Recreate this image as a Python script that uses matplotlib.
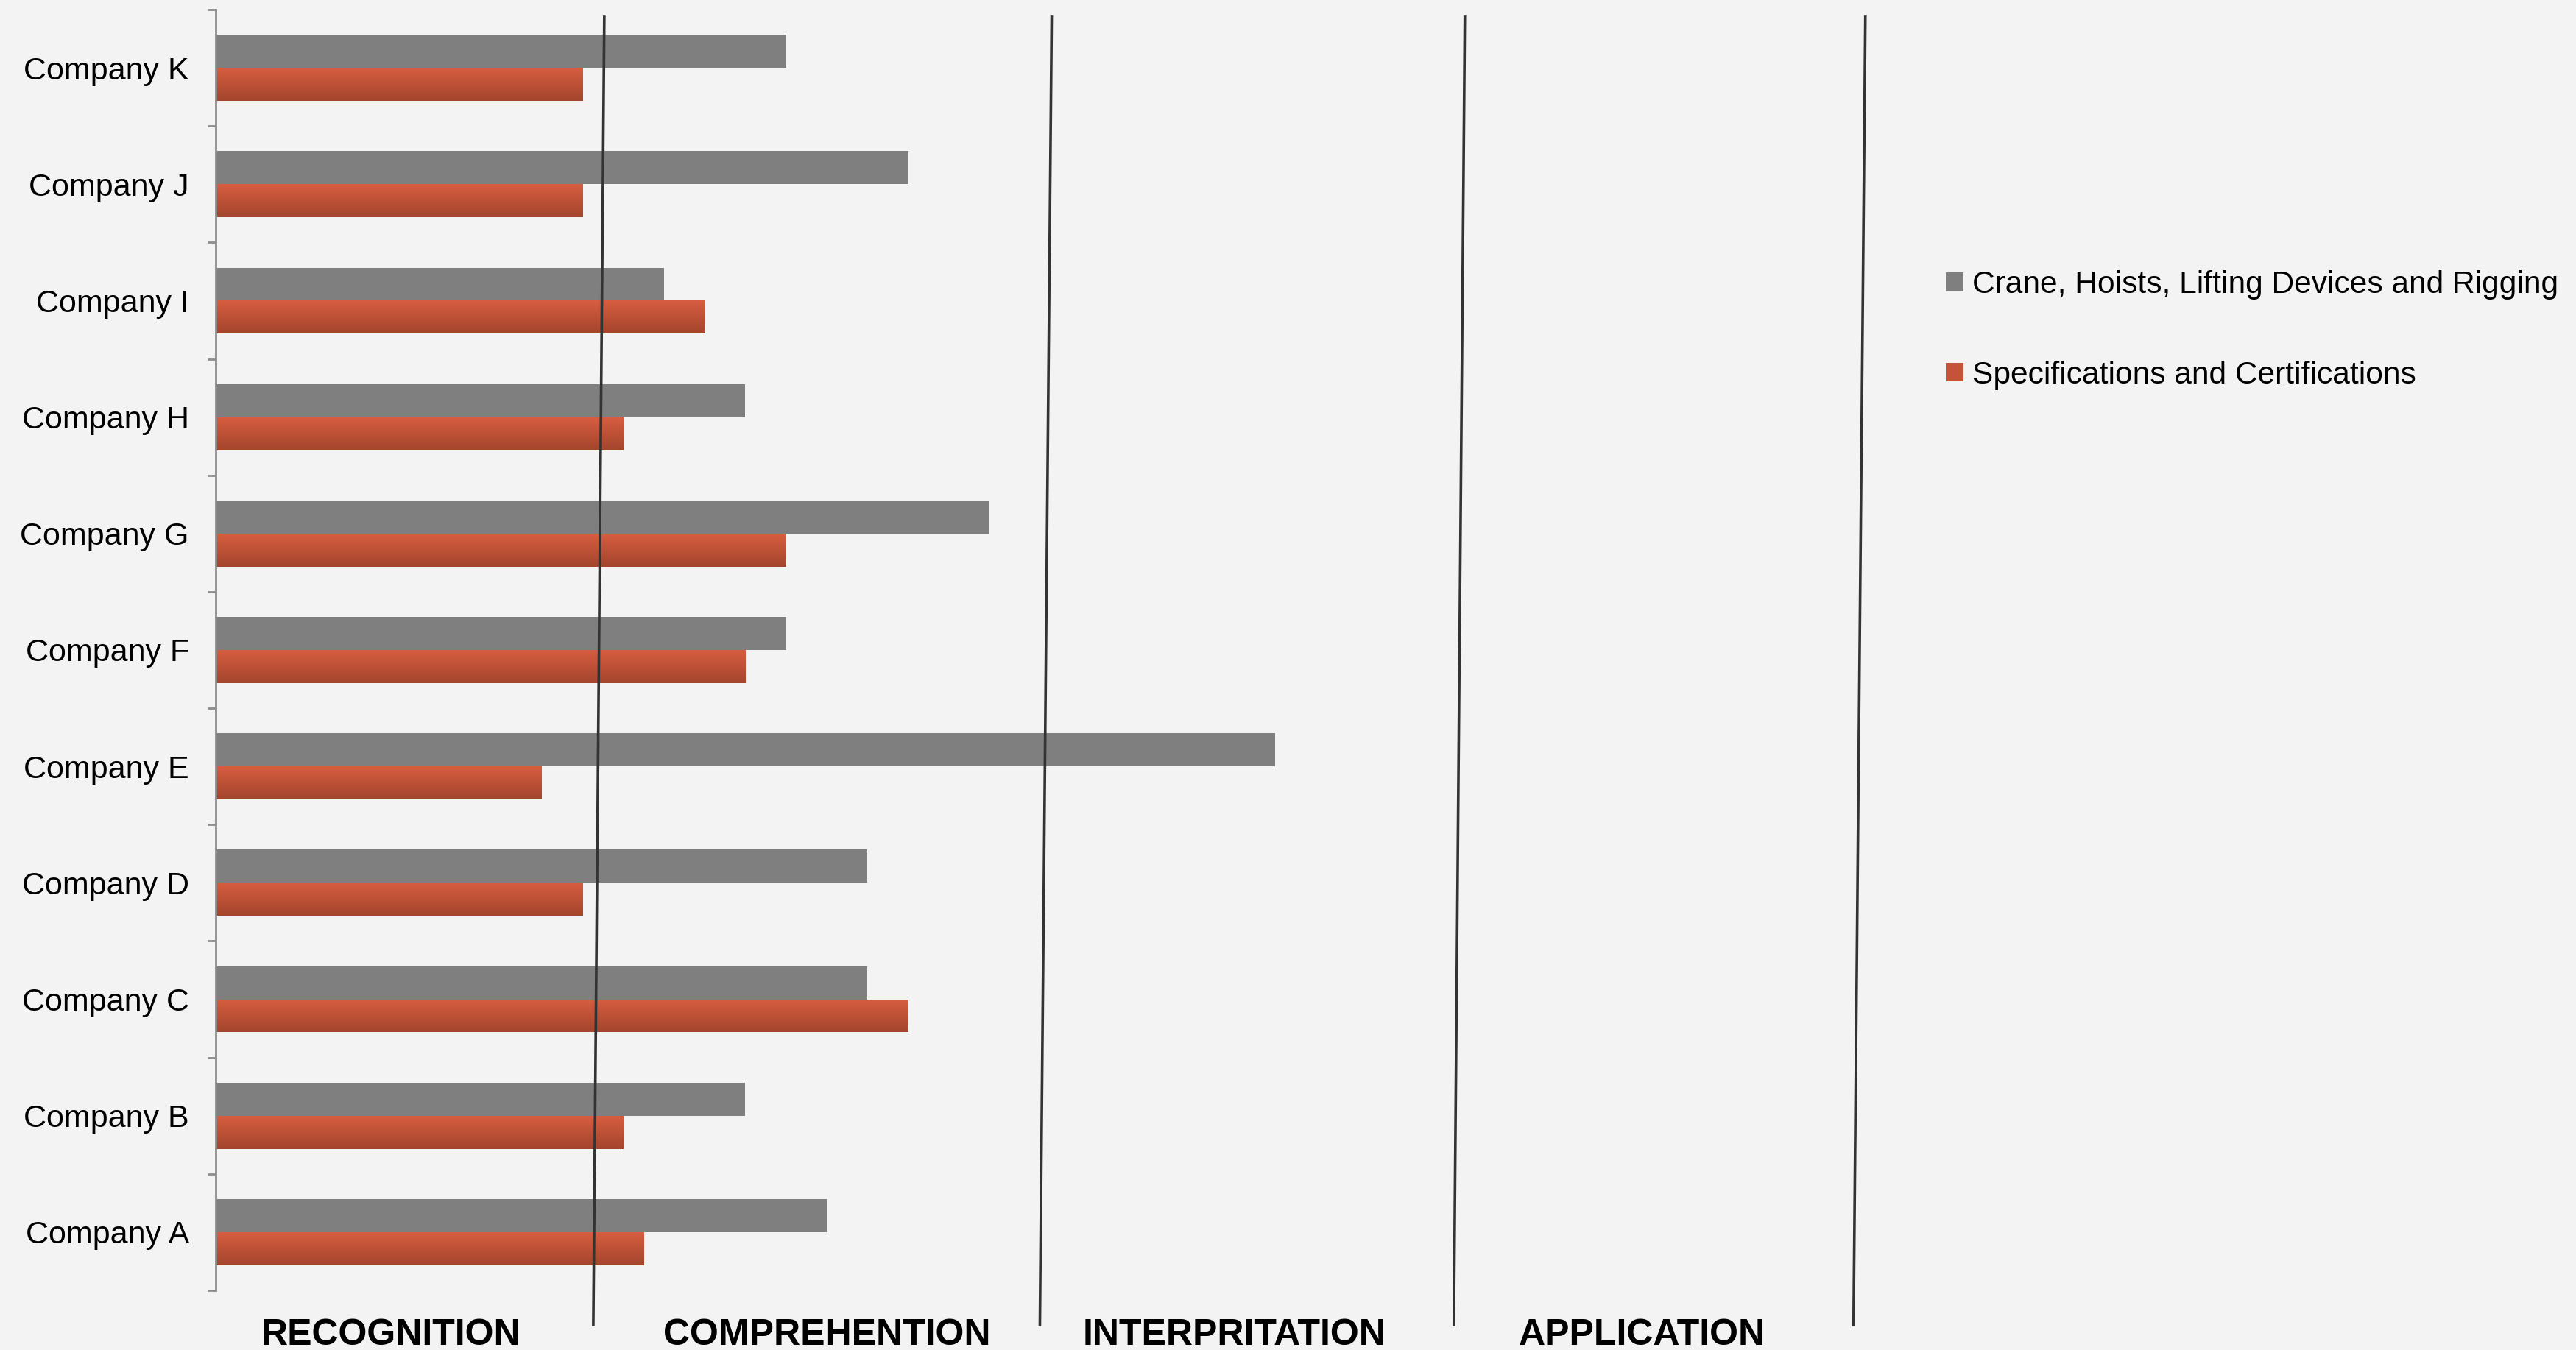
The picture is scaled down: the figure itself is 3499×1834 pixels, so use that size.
import matplotlib.pyplot as plt
import matplotlib.transforms as mtransforms
from matplotlib.colors import LinearSegmentedColormap
from matplotlib.patches import Patch
import numpy as np

plt.rcParams['font.family'] = ['Liberation Sans', 'DejaVu Sans']

# data (bottom to top as drawn)
companies = ["Company A", "Company B", "Company C", "Company D", "Company E", "Company F",
             "Company G", "Company H", "Company I", "Company J", "Company K"]
crane = [15, 13, 16, 16, 26, 14, 19, 13, 11, 17, 14]
specs = [10.5, 10, 17, 9, 8, 13, 14, 10, 12, 9, 9]
series_names = ["Crane, Hoists, Lifting Devices and Rigging", "Specifications and Certifications"]

# level bands drawn by hand over the chart
levels = ["RECOGNITION", "COMPREHENTION", "INTERPRITATION", "APPLICATION"]
level_x = [4.3, 15.0, 25.0, 35.0]
divider_top = [9.54, 20.52, 30.66, 40.49]
divider_bottom = [9.27, 20.23, 30.39, 40.2]

bg = "#f3f3f3"
grey = "#7f7f7f"
orange = "#c4533a"
orange_cmap = LinearSegmentedColormap.from_list("org", ["#a3452d", "#d75d40"])

fig = plt.figure(figsize=(17.495, 9.17), dpi=200, facecolor=bg)
ax = fig.add_axes([0.0837, 0.0442, 0.7322 - 0.0837, 0.9929 - 0.0442])
ax.set_facecolor(bg)

y = np.arange(len(companies))
h = 0.284
ax.barh(y + h / 2, crane, height=h, color=grey, zorder=2)
obars = ax.barh(y - h / 2, specs, height=h, color=orange, zorder=2)

# vertical gradient on the orange bars
grad = np.linspace(0, 1, 64).reshape(-1, 1)
for p in obars:
    x0, y0 = p.get_x(), p.get_y()
    im = ax.imshow(grad, cmap=orange_cmap, origin="lower", aspect="auto",
                   extent=[x0, x0 + p.get_width(), y0, y0 + p.get_height()], zorder=2.1)
    im.set_clip_path(p)

ax.set_xlim(0, 41)
ax.set_ylim(-0.5, len(companies) - 0.5)

for s in ["top", "right", "bottom"]:
    ax.spines[s].set_visible(False)
ax.spines["left"].set_color("#8c8c8c")
ax.spines["left"].set_linewidth(1.0)
ax.set_xticks([])
ax.set_yticks(y)
ax.set_yticklabels(companies, fontsize=15.5)
ax.tick_params(axis="y", which="major", length=0, pad=13)
ax.set_yticks(np.arange(-0.5, len(companies), 1.0), minor=True)
ax.tick_params(axis="y", which="minor", length=4, width=1.0, color="#8c8c8c", direction="out")

# dividers and level labels
trans = mtransforms.blended_transform_factory(ax.transData, ax.transAxes)
for xt, xb in zip(divider_top, divider_bottom):
    ax.plot([xt, xb], [0.9943, -0.027], color="#333333", lw=1.3, transform=trans,
            clip_on=False, zorder=3)
for lab, xl in zip(levels, level_x):
    ax.text(xl, -0.0425, lab, transform=trans, ha="center", va="baseline",
            fontsize=18, fontweight="bold", color="black")

handles = [Patch(facecolor=grey), Patch(facecolor=orange)]
fig.legend(handles, series_names, loc="upper left", bbox_to_anchor=(0.7555, 0.8),
           frameon=False, fontsize=15.3, handlelength=0.55, handleheight=0.55,
           handletextpad=0.28, labelspacing=1.95, borderpad=0, borderaxespad=0)

plt.savefig("out.png", dpi=200, facecolor=bg)
